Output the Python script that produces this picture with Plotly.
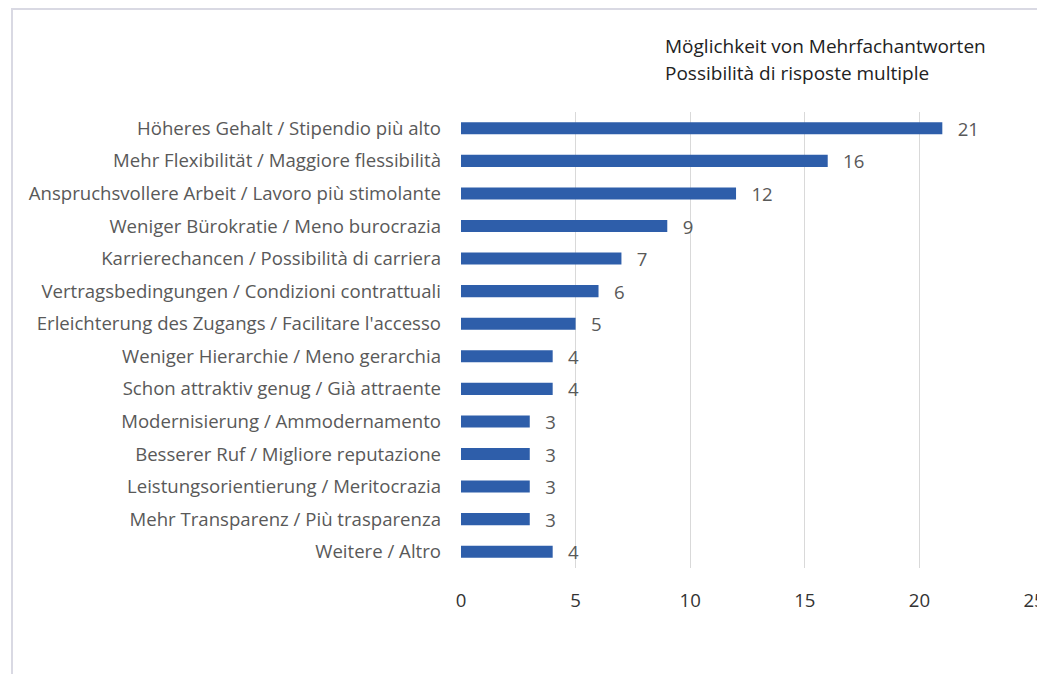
import plotly.graph_objects as go

categories = [
    "Höheres Gehalt / Stipendio più alto",
    "Mehr Flexibilität / Maggiore flessibilità",
    "Anspruchsvollere Arbeit / Lavoro più stimolante",
    "Weniger Bürokratie / Meno burocrazia",
    "Karrierechancen / Possibilità di carriera",
    "Vertragsbedingungen / Condizioni contrattuali",
    "Erleichterung des Zugangs / Facilitare l'accesso",
    "Weniger Hierarchie / Meno gerarchia",
    "Schon attraktiv genug / Già attraente",
    "Modernisierung / Ammodernamento",
    "Besserer Ruf / Migliore reputazione",
    "Leistungsorientierung / Meritocrazia",
    "Mehr Transparenz / Più trasparenza",
    "Weitere / Altro",
]
values = [21, 16, 12, 9, 7, 6, 5, 4, 4, 3, 3, 3, 3, 4]
x_ticks = [0, 5, 10, 15, 20, 25]
note_lines = ["Möglichkeit von Mehrfachantworten", "Possibilità di risposte multiple"]

FONT = "Open Sans"
FS = 18.6
OFF = 8  # page body margin offset
W, H = 1045 - OFF, 682 - 2 * OFF
L, T = 461 - OFF, 112 - OFF
pw, ph = 573, 456
R, B = W - L - pw, H - T - ph

fig = go.Figure(go.Bar(
    y=categories, x=values, orientation="h",
    marker=dict(color="#2E5EAA", line=dict(width=0)),
    width=0.37,
    text=["\u2002\u2009" + str(v) for v in values], textposition="outside",
    constraintext="none",
    textfont=dict(family=FONT, size=FS, color="#595959"),
    cliponaxis=False,
))

fig.update_layout(
    width=W, height=H,
    margin=dict(l=L, r=R, t=T, b=B, autoexpand=False),
    paper_bgcolor="white", plot_bgcolor="white",
    showlegend=False,
    font=dict(family=FONT, size=FS, color="#595959"),
    xaxis=dict(range=[0, 25], tickvals=x_ticks, showgrid=True, gridcolor="#D9D9D9",
               gridwidth=1, zeroline=False, showline=False,
               tickfont=dict(family=FONT, size=FS, color="#333333"),
               ticks="", ticklabelstandoff=19),
    yaxis=dict(categoryorder="array", categoryarray=categories[::-1],
               showgrid=False, zeroline=False, showline=False,
               tickfont=dict(family=FONT, size=FS, color="#595959"), ticks="",
               ticklabelstandoff=19),
)

for line, ypage in zip(note_lines, [46, 73]):
    fig.add_annotation(
        x=(663 - OFF - L) / pw, y=1 + (T - (ypage - OFF)) / ph, xref="paper", yref="paper",
        xanchor="left", yanchor="middle", align="left", showarrow=False,
        text=line,
        font=dict(family=FONT, size=19, color="#222222"),
    )

fig.add_shape(
    type="rect", xref="paper", yref="paper",
    x0=(12 - OFF - L) / pw, x1=(W + 20 - L) / pw,
    y0=1 - (H + 20 - T) / ph, y1=1 + (T - 1) / ph,
    line=dict(color="#D9D9E3", width=2), fillcolor="rgba(0,0,0,0)", layer="below",
)

fig.write_html("out.html")
